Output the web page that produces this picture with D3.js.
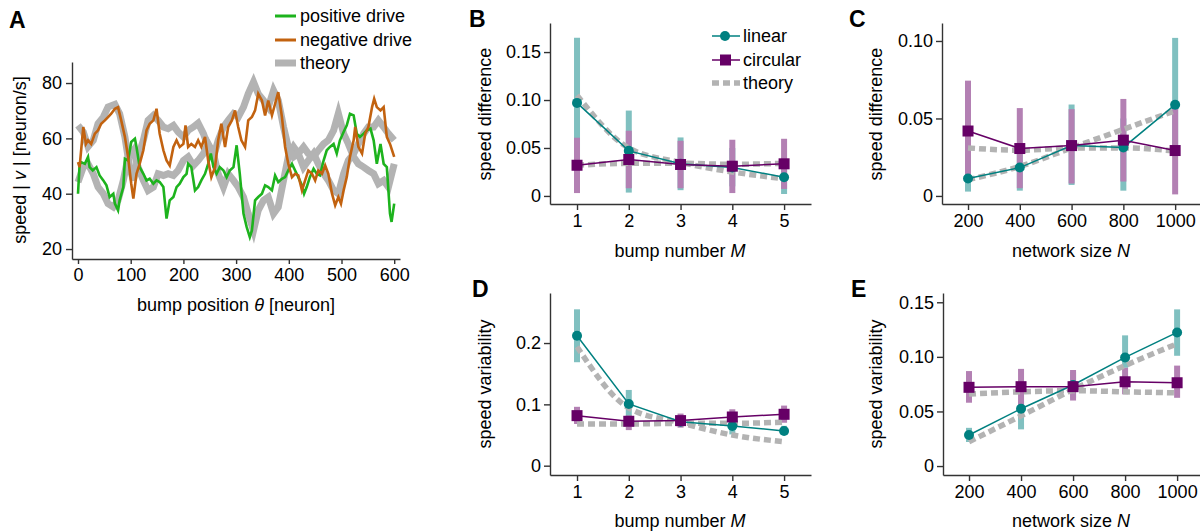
<!DOCTYPE html>
<html><head><meta charset="utf-8">
<script src="https://cdn.jsdelivr.net/npm/d3@7"></script>
<style>
body{margin:0;background:#fff;}
text{font-family:"Liberation Sans",Arial,Helvetica,sans-serif;fill:#000;}
</style></head>
<body><svg id="c" width="1200" height="531"></svg>
<script>
// ---------- DATA ----------
// Panel A: [theta, speed]
const positiveDrive = [[0,40],[3,50.4],[6,51.4],[13,50.8],[19,53.3],[22,49.6],[28,48.4],[35,49.6],[41,46.6],[48,44.8],[54,43],[60,38.8],[67,40],[70,36.4],[76,34],[79,37.6],[86,42.4],[89,52.6],[95,52],[101,58.7],[108,59.9],[111,56.9],[117,49.6],[124,47.2],[130,44.8],[136,45.4],[143,43.6],[149,44.8],[155,44.2],[162,42.4],[168,31],[174,37.6],[181,38.8],[187,42.4],[193,43.6],[200,46],[206,47.2],[209,50.8],[215,49.6],[222,41.2],[228,42.4],[234,44.8],[241,47.2],[247,50.8],[252,54.5],[257,49.6],[263,47.2],[269,49.6],[276,48.4],[282,46],[288,48.4],[295,49.6],[301,57.5],[307,47.2],[314,32.8],[320,28],[326,24.3],[330,26.7],[336,37.6],[342,38.8],[349,40],[355,43],[361,42.4],[368,41.2],[374,46.6],[380,44.2],[387,45.4],[393,46],[399,48.4],[406,50.8],[412,48.4],[418,46],[425,43],[429,40],[434,42.4],[440,46],[447,49],[453,47.2],[459,46.6],[466,52],[472,55.7],[478,56.9],[485,58],[491,54.5],[497,59.3],[504,62.3],[510,64.7],[516,68.9],[523,68.3],[529,61.7],[535,60.5],[542,61.7],[548,62.9],[555,63.5],[561,59.3],[567,50.8],[574,58],[580,50.8],[586,49.6],[592,32.8],[595,29.8],[600,36.4]];
const negativeDrive = [[0,51.4],[3,49.6],[10,64.1],[15,58],[19,59.3],[25,58],[32,61.7],[38,62.9],[44,65.3],[51,66.5],[57,67.7],[63,68.9],[70,70.7],[76,71.3],[82,66.5],[89,60.5],[95,53.3],[101,43.6],[105,38.2],[111,47.2],[117,50.8],[124,55.7],[130,62.9],[136,65.3],[143,66.5],[149,70.7],[155,61.7],[162,55.7],[168,52],[174,50.2],[181,56.9],[187,59.3],[193,56.9],[200,58],[204,64.7],[209,56.9],[215,58],[222,56.9],[228,59.3],[234,56.9],[241,60.5],[247,52],[253,46],[260,49.6],[266,59.3],[272,65.3],[279,56.9],[285,64.1],[292,66.5],[298,70.1],[304,64.1],[310,59.3],[317,56.9],[323,66.5],[330,67.7],[336,70.1],[342,76.1],[349,73.7],[355,68.3],[361,73.7],[368,68.3],[374,72.5],[380,76.7],[387,67.7],[393,56.9],[399,50.8],[406,46],[412,47.2],[418,46.6],[425,41.2],[431,44.8],[437,48.4],[444,47.2],[450,44.8],[456,48.4],[463,47.2],[469,50.2],[475,47.2],[482,40],[488,35.8],[494,38.8],[499,36.4],[504,41.2],[510,46],[516,53.3],[523,59.3],[526,64.1],[532,56.9],[539,54.5],[545,61.7],[551,64.1],[558,71.3],[562,74.3],[567,71.3],[574,70.1],[580,71.3],[586,60.5],[592,58],[600,53.3]];
const theoryNegative = [[0,64.7],[10,62.3],[19,57],[29,59.3],[38,65.3],[48,67.7],[57,71.3],[70,72.3],[79,68.9],[89,60.5],[98,49.6],[105,44.8],[114,53.3],[124,59.3],[133,66.5],[143,68.3],[152,66.5],[162,64.1],[171,63.5],[181,64.7],[190,62.3],[200,60.5],[209,62.9],[219,64.1],[228,65.5],[238,61.7],[247,56.9],[257,53.3],[266,59.3],[276,64.1],[285,66.5],[295,68.9],[304,67.7],[314,71.3],[323,76.1],[333,80.4],[342,76.1],[352,73.7],[361,71.3],[371,77.3],[380,73.7],[390,64.1],[399,56.9],[409,53.3],[418,54.5],[428,49.6],[437,52],[447,54.5],[456,50.8],[466,47.2],[475,44.8],[485,41.2],[494,40],[504,47.2],[513,52],[523,54.5],[532,58],[542,61.7],[551,64.1],[561,64.1],[570,66.5],[580,64.1],[589,61.7],[600,59.3]];
const theoryPositive = [[0,44.2],[10,49.6],[19,50.8],[29,47.2],[38,42.4],[48,40],[57,36.4],[67,35.2],[76,37.6],[86,44.8],[95,53.3],[105,55.7],[114,49.6],[124,44.8],[133,41.2],[143,42.4],[152,47.2],[162,46.6],[171,47.2],[181,46.6],[190,48.4],[200,52],[209,53.3],[219,50.2],[228,52],[238,54.5],[247,58],[257,54.5],[266,47.2],[276,42.4],[285,47.2],[295,44.8],[304,42.4],[314,38.8],[323,32.8],[333,26.7],[342,34],[352,37.6],[361,38.8],[371,32.8],[380,35.2],[390,44.8],[399,53.3],[409,56.9],[418,54.5],[428,56.9],[437,54.5],[447,53.3],[456,55.7],[466,58],[475,59.3],[485,62.9],[494,69],[504,61.7],[513,58],[523,53.3],[532,50.8],[542,49.6],[551,48.4],[561,47.2],[570,43.6],[580,44.8],[589,42.4],[600,50.8]];
const xTicksA = [0,100,200,300,400,500,600];
const yTicksA = [20,40,60,80];

// Panels B-E
const bumpNumber = [1,2,3,4,5];
const networkSize = [200,400,600,800,1000];

// B: speed difference vs bump number
const B_linear = [0.097,0.047,0.0335,0.0296,0.0195];
const B_linearLo = [0.03,0.0035,0.006,0.01,0.002];
const B_linearHi = [0.165,0.089,0.061,0.05,0.04];
const B_circular = [0.032,0.038,0.0328,0.031,0.0335];
const B_circularLo = [0.003,0.008,0.008,0.003,0.0073];
const B_circularHi = [0.0607,0.068,0.0575,0.0586,0.0596];
const B_theoryLinear = [0.105,0.05,0.035,0.025,0.018];
const B_theoryCircular = [0.032,0.034,0.034,0.033,0.034];
const B_yTicks = [0,0.05,0.10,0.15];

// C: speed difference vs network size
const C_linear = [0.0112,0.0183,0.0325,0.0313,0.0589];
const C_linearLo = [0.0028,0.0034,0.0071,0.0034,0.03];
const C_linearHi = [0.02,0.03,0.059,0.05,0.102];
const C_circular = [0.0419,0.0306,0.0325,0.036,0.0293];
const C_circularLo = [0.01,0.005,0.008,0.0093,0.001];
const C_circularHi = [0.0744,0.0567,0.056,0.0626,0.057];
const C_theoryLinear = [0.0105,0.019,0.031,0.043,0.055];
const C_theoryCircular = [0.031,0.0295,0.031,0.031,0.029];
const C_yTicks = [0,0.05,0.10];

// D: speed variability vs bump number
const D_linear = [0.212,0.1007,0.0718,0.0648,0.0566];
const D_linearLo = [0.1687,0.08,0.065,0.051,0.05];
const D_linearHi = [0.255,0.1235,0.08,0.075,0.065];
const D_circular = [0.0816,0.0724,0.0735,0.0794,0.0838];
const D_circularLo = [0.068,0.058,0.062,0.068,0.07];
const D_circularHi = [0.096,0.082,0.085,0.092,0.098];
const D_theoryLinear = [0.194,0.094,0.07,0.05,0.039];
const D_theoryCircular = [0.068,0.068,0.069,0.069,0.071];
const D_yTicks = [0,0.1,0.2];

// E: speed variability vs network size
const E_linear = [0.0284,0.0525,0.0742,0.0995,0.1224];
const E_linearLo = [0.022,0.0336,0.062,0.09,0.101];
const E_linearHi = [0.035,0.06,0.086,0.1197,0.1435];
const E_circular = [0.0721,0.0727,0.0727,0.0772,0.0763];
const E_circularLo = [0.058,0.054,0.06,0.0657,0.0625];
const E_circularHi = [0.087,0.089,0.088,0.09,0.092];
const E_theoryLinear = [0.0223,0.046,0.07,0.092,0.112];
const E_theoryCircular = [0.066,0.068,0.069,0.068,0.067];
const E_yTicks = [0,0.05,0.10,0.15];

// ---------- DRAW ----------
const svg = d3.select('#c');
const FS = 18;
const axisColor = '#333';
const teal = '#008080', tealLight = '#80c0c0';
const purple = '#660066', purpleLight = '#b380b3';
const gray = '#b3b3b3';

function styleAxis(g){
  g.selectAll('path.domain').attr('stroke',axisColor).attr('stroke-width',1.4);
  g.selectAll('.tick line').attr('stroke',axisColor).attr('stroke-width',1.4);
  g.selectAll('.tick text').attr('font-size',FS).attr('fill','#000')
   .style('font-family','"Liberation Sans",Arial,sans-serif');
}
function panelLetter(t,x,y){
  svg.append('text').attr('x',x).attr('y',y).attr('font-size',23).attr('font-weight','bold').text(t);
}
function yTitle(parts,x,y){
  const t = svg.append('text').attr('transform',`translate(${x},${y}) rotate(-90)`)
    .attr('text-anchor','middle').attr('font-size',FS);
  parts.forEach(p=>t.append('tspan').attr('font-style',p[1]?'italic':null).text(p[0]));
}
function xTitle(parts,x,y){
  const t = svg.append('text').attr('x',x).attr('y',y).attr('text-anchor','middle').attr('font-size',FS);
  parts.forEach(p=>t.append('tspan').attr('font-style',p[1]?'italic':null).text(p[0]));
}

// ---- Panel A ----
{
  const x = d3.scaleLinear().domain([-11.4,611]).range([72,400]);
  const y = d3.scaleLinear().domain([16.4,87.6]).range([259,62]);
  const line = d3.line().x(d=>x(d[0])).y(d=>y(d[1]));
  const g = svg.append('g');
  [theoryPositive, theoryNegative].forEach(s=>{
    g.append('path').attr('d',line(s)).attr('fill','none').attr('stroke',gray)
     .attr('stroke-width',7).attr('stroke-linejoin','miter');
  });
  g.append('path').attr('d',line(positiveDrive)).attr('fill','none').attr('stroke','#1db31d').attr('stroke-width',2.6);
  g.append('path').attr('d',line(negativeDrive)).attr('fill','none').attr('stroke','#c2620f').attr('stroke-width',2.6);
  const ax = svg.append('g').attr('transform','translate(0,259)')
    .call(d3.axisBottom(x).tickValues(xTicksA).tickSize(5).tickSizeOuter(0).tickPadding(4).tickFormat(d3.format('d')));
  styleAxis(ax);
  const ay = svg.append('g').attr('transform','translate(72,0)')
    .call(d3.axisLeft(y).tickValues(yTicksA).tickSize(6).tickSizeOuter(0).tickPadding(4).tickFormat(d3.format('d')));
  styleAxis(ay);
  panelLetter('A',9,28);
  yTitle([['speed | ',0],['v',1],[' | [neuron/s]',0]],26,160);
  xTitle([['bump position ',0],['θ',1],[' [neuron]',0]],236,311);
  // legend
  const leg = [['positive drive','#1db31d',3],['negative drive','#c2620f',3],['theory',gray,7]];
  leg.forEach((l,i)=>{
    const yy = [16,40,63][i];
    svg.append('line').attr('x1',275).attr('x2',296).attr('y1',yy).attr('y2',yy)
      .attr('stroke',l[1]).attr('stroke-width',l[2]);
    svg.append('text').attr('x',300).attr('y',yy+6).attr('font-size',FS).text(l[0]);
  });
}

// ---- Panels B-E ----
function statPanel(o){
  const x = d3.scaleLinear().domain(o.xd).range(o.xr);
  const y = d3.scaleLinear().domain(o.yd).range(o.yr);
  const g = svg.append('g');
  const xs = o.xv;
  // error bars
  [[o.linLo,o.linHi,tealLight],[o.cirLo,o.cirHi,purpleLight]].forEach(e=>{
    g.selectAll(null).data(xs).enter().append('line')
      .attr('x1',d=>x(d)).attr('x2',d=>x(d))
      .attr('y1',(d,i)=>y(e[0][i])).attr('y2',(d,i)=>y(e[1][i]))
      .attr('stroke',e[2]).attr('stroke-width',6);
  });
  // theory
  const tl = d3.line().x((d,i)=>x(xs[i])).y(d=>y(d)).curve(d3.curveMonotoneX);
  [o.thLin,o.thCir].forEach(s=>{
    g.append('path').attr('d',tl(s)).attr('fill','none').attr('stroke',gray)
     .attr('stroke-width',5.5).attr('stroke-dasharray','7,4');
  });
  const ll = d3.line().x((d,i)=>x(xs[i])).y(d=>y(d));
  g.append('path').attr('d',ll(o.lin)).attr('fill','none').attr('stroke',teal).attr('stroke-width',1.5);
  g.selectAll(null).data(o.lin).enter().append('circle')
    .attr('cx',(d,i)=>x(xs[i])).attr('cy',d=>y(d)).attr('r',5).attr('fill',teal);
  g.append('path').attr('d',ll(o.cir)).attr('fill','none').attr('stroke',purple).attr('stroke-width',1.5);
  g.selectAll(null).data(o.cir).enter().append('rect')
    .attr('x',(d,i)=>x(xs[i])-5.5).attr('y',d=>y(d)-5.5).attr('width',11).attr('height',11).attr('fill',purple);
  const ax = svg.append('g').attr('transform',`translate(0,${o.yr[0]})`)
    .call(d3.axisBottom(x).tickValues(xs).tickSize(6).tickSizeOuter(0).tickPadding(4).tickFormat(d=>String(d)));
  styleAxis(ax);
  const ay = svg.append('g').attr('transform',`translate(${o.xr[0]},0)`)
    .call(d3.axisLeft(y).tickValues(o.yt).tickSize(6).tickSizeOuter(0).tickPadding(3)
      .tickFormat(d=>d===0?'0':d3.format(o.fmt)(d)));
  styleAxis(ay);
  panelLetter(o.letter,o.lx,o.ly);
  yTitle([[o.ytitle,0]],o.ytx,o.yty);
  xTitle(o.xtitle,o.xtx,o.xty);
}

statPanel({letter:'B',lx:469,ly:27,xv:bumpNumber,xd:[0.478,5.52],xr:[550,811],yd:[-0.0084,0.1803],yr:[204,23],
  lin:B_linear,linLo:B_linearLo,linHi:B_linearHi,cir:B_circular,cirLo:B_circularLo,cirHi:B_circularHi,
  thLin:B_theoryLinear,thCir:B_theoryCircular,yt:B_yTicks,fmt:'.2f',
  ytitle:'speed difference',ytx:491,yty:114,xtitle:[['bump number ',0],['M',1]],xtx:680,xty:257});
statPanel({letter:'C',lx:849,ly:27,xv:networkSize,xd:[99.5,1096],xr:[942,1200],yd:[-0.0052,0.1116],yr:[204,23],
  lin:C_linear,linLo:C_linearLo,linHi:C_linearHi,cir:C_circular,cirLo:C_circularLo,cirHi:C_circularHi,
  thLin:C_theoryLinear,thCir:C_theoryCircular,yt:C_yTicks,fmt:'.2f',
  ytitle:'speed difference',ytx:882,yty:114,xtitle:[['network size ',0],['N',1]],xtx:1071,xty:257});
statPanel({letter:'D',lx:472,ly:297,xv:bumpNumber,xd:[0.478,5.52],xr:[550,811],yd:[-0.0152,0.2816],yr:[475,293],
  lin:D_linear,linLo:D_linearLo,linHi:D_linearHi,cir:D_circular,cirLo:D_circularLo,cirHi:D_circularHi,
  thLin:D_theoryLinear,thCir:D_theoryCircular,yt:D_yTicks,fmt:'.1f',
  ytitle:'speed variability',ytx:491,yty:384,xtitle:[['bump number ',0],['M',1]],xtx:680,xty:527});
statPanel({letter:'E',lx:851,ly:297,xv:networkSize,xd:[100,1088],xr:[943,1200],yd:[-0.0082,0.1585],yr:[475,293],
  lin:E_linear,linLo:E_linearLo,linHi:E_linearHi,cir:E_circular,cirLo:E_circularLo,cirHi:E_circularHi,
  thLin:E_theoryLinear,thCir:E_theoryCircular,yt:E_yTicks,fmt:'.2f',
  ytitle:'speed variability',ytx:882,yty:384,xtitle:[['network size ',0],['N',1]],xtx:1071,xty:527});

// legend B
{
  const rows=[36,60,83];
  svg.append('line').attr('x1',712).attr('x2',740).attr('y1',rows[0]).attr('y2',rows[0]).attr('stroke',teal).attr('stroke-width',1.5);
  svg.append('circle').attr('cx',725).attr('cy',rows[0]).attr('r',5).attr('fill',teal);
  svg.append('line').attr('x1',712).attr('x2',740).attr('y1',rows[1]).attr('y2',rows[1]).attr('stroke',purple).attr('stroke-width',1.5);
  svg.append('rect').attr('x',720).attr('y',rows[1]-5.5).attr('width',11).attr('height',11).attr('fill',purple);
  svg.append('line').attr('x1',712).attr('x2',740).attr('y1',rows[2]).attr('y2',rows[2]).attr('stroke',gray).attr('stroke-width',5.5).attr('stroke-dasharray','7,4');
  ['linear','circular','theory'].forEach((t,i)=>svg.append('text').attr('x',743).attr('y',rows[i]+6).attr('font-size',FS).text(t));
}
</script></body></html>
